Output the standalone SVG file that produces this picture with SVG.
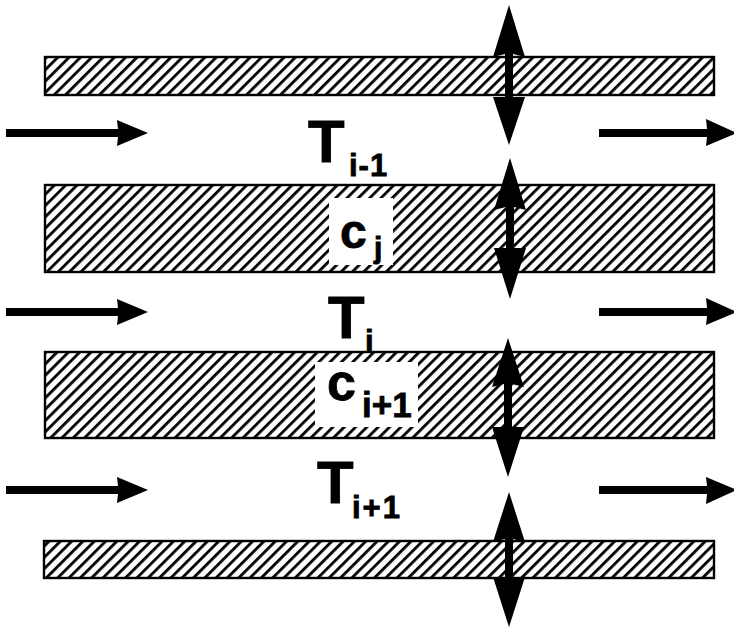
<svg xmlns="http://www.w3.org/2000/svg" width="734" height="628" viewBox="0 0 734 628">
<style>
.strip{fill:url(#hatch);stroke:#000;stroke-width:2.4}
.lbl{font-family:"Liberation Sans",Arial,sans-serif;font-weight:bold;fill:#000;stroke:#000;stroke-width:0.8}
.arr{fill:#000}
.box{fill:#fff}
</style>
<defs>
<pattern id="hatch" patternUnits="userSpaceOnUse" width="8" height="10" patternTransform="rotate(45)">
<rect x="0" y="0" width="8" height="10" fill="#fff"/>
<rect x="0" y="0" width="2.8" height="10" fill="#000"/>
</pattern>
</defs>
<rect width="734" height="628" fill="#fff"/>
<g id="strip-top"><rect class="strip" x="45" y="57" width="669" height="38"/></g>
<g id="strip-cj"><rect class="strip" x="45" y="185" width="669" height="87"/><rect class="box" x="329" y="198" width="64" height="67"/>
<text class="lbl"><tspan x="340" y="248" font-size="48">c</tspan><tspan x="374" y="258" font-size="30">j</tspan></text></g>
<g id="strip-ci1"><rect class="strip" x="45" y="352" width="669" height="86"/><rect class="box" x="315" y="362" width="103" height="65"/>
<text class="lbl"><tspan x="327" y="400" font-size="52">c</tspan><tspan x="362" y="417" font-size="35">i+1</tspan></text></g>
<g id="strip-bottom"><rect class="strip" x="44" y="541" width="670" height="37"/></g>
<g id="label-Ti-1"><text class="lbl"><tspan x="308" y="162" font-size="60">T</tspan><tspan x="349" y="176" font-size="31" letter-spacing="1">i-1</tspan></text></g>
<g id="label-Ti"><text class="lbl"><tspan x="328" y="338" font-size="60">T</tspan><tspan x="365" y="352" font-size="31">i</tspan></text></g>
<g id="label-Ti+1"><text class="lbl"><tspan x="317" y="503" font-size="60">T</tspan><tspan x="352" y="518" font-size="31" letter-spacing="2">i+1</tspan></text></g>
<g id="connectors">
<polygon class="arr" points="6,129 118,129 117,120 148,133 117,146 118,137 6,137"/>
<polygon class="arr" points="599,129 707,129 706,119 737,133 706,146 707,137 599,137"/>
<polygon class="arr" points="6,308 118,308 117,299 148,312 117,325 118,316 6,316"/>
<polygon class="arr" points="599,308 707,308 706,298 737,312 706,325 707,316 599,316"/>
<polygon class="arr" points="6,486 118,486 117,477 148,490 117,503 118,494 6,494"/>
<polygon class="arr" points="599,486 707,486 706,477 737,490 706,504 707,494 599,494"/>
<polygon class="arr" points="509,5 525,57 513,54 513,97 525,97 509,145 493,97 505,97 505,54 493,57"/>
<polygon class="arr" points="510,158 526,210 514,207 514,248 526,248 510,299 494,248 506,248 506,207 494,210"/>
<polygon class="arr" points="508,338 524,387 512,384 512,427 524,427 508,477 492,427 504,427 504,384 492,387"/>
<polygon class="arr" points="509,492 525,542 513,539 513,577 525,577 509,627 493,577 505,577 505,539 493,542"/>
</g>
</svg>
